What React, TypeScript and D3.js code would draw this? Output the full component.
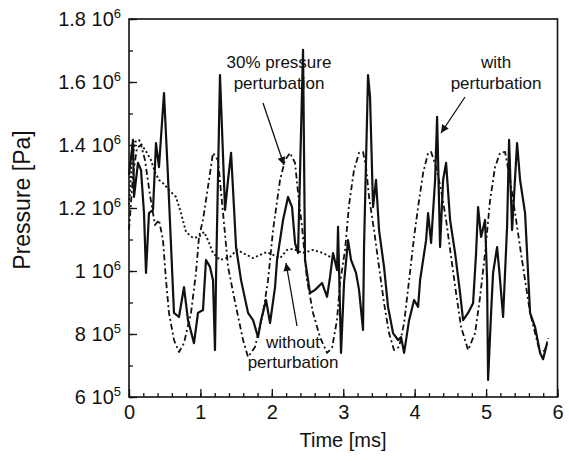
import * as d3 from "d3";
import React from "react";

// time in ms, pressure in Pa
const timeWith = [0, 0.056, 0.07, 0.126, 0.168, 0.21, 0.238, 0.28, 0.336, 0.378, 0.42, 0.49, 0.546, 0.63, 0.7, 0.77, 0.826, 0.91, 0.966, 1.036, 1.078, 1.134, 1.176, 1.204, 1.218, 1.274, 1.345, 1.387, 1.429, 1.457, 1.499, 1.569, 1.667, 1.737, 1.807, 1.849, 1.919, 1.975, 2.045, 2.073, 2.157, 2.227, 2.283, 2.325, 2.367, 2.437, 2.465, 2.535, 2.605, 2.703, 2.773, 2.815, 2.857, 2.913, 2.927, 2.969, 3.011, 3.067, 3.109, 3.179, 3.221, 3.277, 3.291, 3.347, 3.375, 3.417, 3.459, 3.501, 3.571, 3.627, 3.697, 3.768, 3.81, 3.852, 3.922, 3.992, 4.048, 4.076, 4.16, 4.188, 4.23, 4.286, 4.314, 4.356, 4.398, 4.44, 4.496, 4.566, 4.636, 4.678, 4.748, 4.818, 4.86, 4.888, 4.93, 4.986, 5.014, 5.028, 5.07, 5.098, 5.154, 5.196, 5.238, 5.294, 5.322, 5.364, 5.434, 5.476, 5.546, 5.616, 5.686, 5.756, 5.798, 5.854];
const pressureWith = [1.305e6, 1.416e6, 1.235e6, 1.343e6, 1.321e6, 1.184e6, 0.994e6, 1.184e6, 1.194e6, 1.406e6, 1.33e6, 1.565e6, 1.299e6, 0.867e6, 0.854e6, 0.949e6, 0.844e6, 0.771e6, 0.867e6, 0.876e6, 1.035e6, 1.013e6, 0.971e6, 0.749e6, 0.971e6, 1.622e6, 1.194e6, 1.289e6, 1.375e6, 1.257e6, 1.076e6, 0.971e6, 0.867e6, 0.844e6, 0.79e6, 0.844e6, 0.908e6, 0.835e6, 0.949e6, 1.035e6, 1.162e6, 1.235e6, 1.203e6, 1.089e6, 1.057e6, 1.702e6, 1.035e6, 0.93e6, 0.94e6, 0.962e6, 0.918e6, 0.981e6, 1.057e6, 1.003e6, 1.14e6, 0.74e6, 0.962e6, 1.098e6, 1.035e6, 0.994e6, 0.94e6, 0.813e6, 1.076e6, 1.622e6, 1.553e6, 1.203e6, 1.289e6, 1.13e6, 1.013e6, 0.886e6, 0.803e6, 0.781e6, 0.79e6, 0.74e6, 0.844e6, 0.908e6, 0.886e6, 0.971e6, 1.098e6, 1.184e6, 1.089e6, 1.289e6, 1.489e6, 1.076e6, 1.289e6, 1.343e6, 1.162e6, 1.057e6, 0.93e6, 0.844e6, 0.867e6, 0.898e6, 1.057e6, 1.203e6, 1.108e6, 1.162e6, 0.971e6, 0.654e6, 0.867e6, 0.994e6, 1.076e6, 0.971e6, 0.854e6, 1.14e6, 1.416e6, 1.13e6, 1.406e6, 1.289e6, 1.184e6, 0.867e6, 0.822e6, 0.74e6, 0.72e6, 0.771e6];

const time30 = [0, 0.056, 0.112, 0.168, 0.224, 0.294, 0.364, 0.42, 0.476, 0.518, 0.56, 0.63, 0.7, 0.77, 0.868, 0.938, 0.98, 1.036, 1.106, 1.176, 1.246, 1.317, 1.387, 1.499, 1.597, 1.667, 1.765, 1.877, 1.947, 2.017, 2.115, 2.185, 2.255, 2.325, 2.367, 2.423, 2.493, 2.577, 2.675, 2.773, 2.843, 2.913, 2.955, 3.025, 3.081, 3.151, 3.221, 3.277, 3.319, 3.361, 3.431, 3.501, 3.571, 3.641, 3.711, 3.782, 3.852, 3.922, 3.992, 4.048, 4.118, 4.188, 4.23, 4.3, 4.37, 4.44, 4.51, 4.58, 4.65, 4.748, 4.846, 4.916, 4.986, 5.056, 5.126, 5.196, 5.266, 5.336, 5.406, 5.476, 5.546, 5.616, 5.686, 5.756, 5.826, 5.868];
const pressure30 = [1.13e6, 1.305e6, 1.391e6, 1.4e6, 1.352e6, 1.241e6, 1.146e6, 1.162e6, 1.098e6, 0.971e6, 0.867e6, 0.781e6, 0.743e6, 0.771e6, 0.867e6, 0.994e6, 1.108e6, 1.162e6, 1.267e6, 1.375e6, 1.352e6, 1.184e6, 1.013e6, 0.886e6, 0.781e6, 0.727e6, 0.759e6, 0.867e6, 0.971e6, 1.13e6, 1.289e6, 1.352e6, 1.375e6, 1.343e6, 1.248e6, 1.14e6, 0.971e6, 0.867e6, 0.79e6, 0.74e6, 0.756e6, 0.845e6, 0.962e6, 1.067e6, 1.21e6, 1.321e6, 1.375e6, 1.378e6, 1.33e6, 1.235e6, 1.13e6, 1.013e6, 0.898e6, 0.803e6, 0.749e6, 0.759e6, 0.835e6, 0.971e6, 1.108e6, 1.203e6, 1.311e6, 1.375e6, 1.378e6, 1.33e6, 1.257e6, 1.162e6, 1.045e6, 0.93e6, 0.822e6, 0.749e6, 0.803e6, 0.918e6, 1.057e6, 1.225e6, 1.33e6, 1.375e6, 1.378e6, 1.289e6, 1.184e6, 1.076e6, 0.971e6, 0.867e6, 0.803e6, 0.74e6, 0.749e6, 0.787e6];

const timeWithout = [0, 0.042, 0.084, 0.14, 0.196, 0.252, 0.308, 0.364, 0.42, 0.476, 0.56, 0.658, 0.728, 0.798, 0.896, 0.98, 1.05, 1.106, 1.176, 1.274, 1.415, 1.513, 1.597, 1.737, 1.835, 1.933, 2.017, 2.115, 2.213, 2.297, 2.437, 2.577, 2.717, 2.815, 2.899];
const pressureWithout = [1.21e6, 1.352e6, 1.41e6, 1.416e6, 1.394e6, 1.375e6, 1.352e6, 1.314e6, 1.289e6, 1.279e6, 1.257e6, 1.235e6, 1.184e6, 1.124e6, 1.105e6, 1.108e6, 1.124e6, 1.098e6, 1.057e6, 1.035e6, 1.045e6, 1.067e6, 1.057e6, 1.041e6, 1.051e6, 1.06e6, 1.051e6, 1.041e6, 1.067e6, 1.07e6, 1.057e6, 1.067e6, 1.057e6, 1.045e6, 1.038e6];

const xTicks = [0, 1, 2, 3, 4, 5, 6];
const yTicks = [6e5, 8e5, 1e6, 1.2e6, 1.4e6, 1.6e6, 1.8e6];

const FONT = "'Liberation Sans', Arial, sans-serif";

function drawLine(g, x, y, ts, ps, dash, width) {
    const line = d3.line().x(d => x(d[0])).y(d => y(d[1]));
    g.append("path")
        .datum(ts.map((t, i) => [t, ps[i]]))
        .attr("d", line)
        .attr("fill", "none")
        .attr("stroke", "#111")
        .attr("stroke-width", width)
        .attr("stroke-linejoin", "round")
        .attr("stroke-dasharray", dash);
}

const App = () => {
    const ref = React.useRef(null);

    React.useEffect(() => {
        const svg = d3.select(ref.current);
        svg.selectAll("*").remove();

        const x = d3.scaleLinear().domain([0, 6]).range([129, 557.5]);
        const y = d3.scaleLinear().domain([6e5, 1.8e6]).range([397, 19]);

        svg.append("defs").append("marker")
            .attr("id", "arrow")
            .attr("viewBox", "0 0 10 10")
            .attr("refX", 10).attr("refY", 5)
            .attr("markerWidth", 11).attr("markerHeight", 8)
            .attr("markerUnits", "userSpaceOnUse")
            .attr("orient", "auto")
            .append("path")
            .attr("d", "M0,0 L10,5 L0,10 Z")
            .attr("fill", "#111");

        // curves
        const plot = svg.append("g");
        drawLine(plot, x, y, timeWithout, pressureWithout, "2,2.5", 1.9);
        drawLine(plot, x, y, time30, pressure30, "6,3,2,3", 1.8);
        drawLine(plot, x, y, timeWith, pressureWith, null, 2.2);

        // x axis ticks (inward)
        const xMinor = svg.append("g").attr("transform", "translate(0,397)")
            .call(d3.axisBottom(x).tickValues(d3.range(0, 6.01, 0.2)).tickSize(-4).tickFormat(() => ""));
        const xMajor = svg.append("g").attr("transform", "translate(0,397)")
            .call(d3.axisBottom(x).tickValues(xTicks).tickSize(-8).tickPadding(8).tickFormat(d3.format("d")));
        [xMinor, xMajor].forEach(a => {
            a.select(".domain").remove();
            a.selectAll("line").attr("stroke", "#111").attr("stroke-width", 1.3);
        });
        xMajor.selectAll("text").attr("font-family", FONT).attr("font-size", 20).attr("fill", "#111");

        // y axis ticks
        const yMinor = svg.append("g").attr("transform", "translate(129,0)")
            .call(d3.axisLeft(y).tickValues(d3.range(6e5, 1.8e6 + 1, 1e5)).tickSize(-4).tickFormat(() => ""));
        const yMajor = svg.append("g").attr("transform", "translate(129,0)")
            .call(d3.axisLeft(y).tickValues(yTicks).tickSize(-8).tickFormat(() => ""));
        [yMinor, yMajor].forEach(a => {
            a.select(".domain").remove();
            a.selectAll("line").attr("stroke", "#111").attr("stroke-width", 1.3);
        });

        const yLabels = svg.append("g").attr("font-family", FONT).attr("fill", "#111");
        yTicks.forEach(v => {
            const e = Math.floor(Math.log10(v) + 1e-9);
            const m = +(v / Math.pow(10, e)).toFixed(1);
            const t = yLabels.append("text")
                .attr("x", 121)
                .attr("y", y(v) + 7)
                .attr("text-anchor", "end")
                .attr("font-size", 20);
            t.append("tspan").text(m + " 10");
            t.append("tspan").attr("dy", -8).attr("font-size", 13).text(e);
        });

        // frame
        svg.append("rect")
            .attr("x", 129).attr("y", 19)
            .attr("width", 557.5 - 129).attr("height", 397 - 19)
            .attr("fill", "none")
            .attr("stroke", "#111")
            .attr("stroke-width", 1.6);

        // axis titles
        svg.append("text")
            .attr("x", 343).attr("y", 447)
            .attr("text-anchor", "middle")
            .attr("font-family", FONT).attr("font-size", 20)
            .attr("fill", "#111")
            .text("Time [ms]");
        svg.append("text")
            .attr("transform", "translate(30,200) rotate(-90)")
            .attr("text-anchor", "middle")
            .attr("font-family", FONT).attr("font-size", 23)
            .attr("fill", "#111")
            .text("Pressure [Pa]");

        // annotations
        const notes = [
            { lines: ["30% pressure", "perturbation"], cx: 279, y0: 68, dy: 21 },
            { lines: ["with", "perturbation"], cx: 496, y0: 68, dy: 21 },
            { lines: ["without", "perturbation"], cx: 293, y0: 348, dy: 20 },
        ];
        notes.forEach(n => {
            n.lines.forEach((s, i) => {
                svg.append("text")
                    .attr("x", n.cx).attr("y", n.y0 + i * n.dy)
                    .attr("text-anchor", "middle")
                    .attr("font-family", FONT).attr("font-size", 17)
                    .attr("fill", "#111")
                    .text(s);
            });
        });

        const arrows = [
            [263, 103, 284, 165],
            [465, 97, 441, 133],
            [297, 326, 286, 263],
        ];
        arrows.forEach(a => {
            svg.append("line")
                .attr("x1", a[0]).attr("y1", a[1])
                .attr("x2", a[2]).attr("y2", a[3])
                .attr("stroke", "#111")
                .attr("stroke-width", 1.3)
                .attr("marker-end", "url(#arrow)");
        });
    }, []);

    return (
        <svg
            ref={ref}
            width={569}
            height={462}
            style={{ position: "absolute", left: 0, top: 0, background: "#fff" }}
        />
    );
};

export default App;
